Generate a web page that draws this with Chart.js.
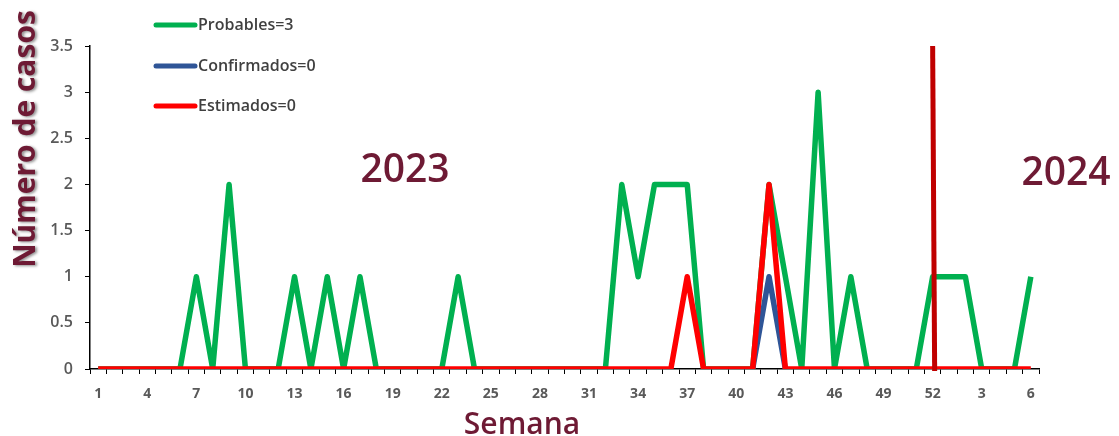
<!DOCTYPE html>
<html>
<head>
<meta charset="utf-8">
<script src="https://cdn.jsdelivr.net/npm/chart.js@4"></script>
<style>
  html, body { margin: 0; padding: 0; background: #fff; }
  #wrap { width: 1119px; height: 436px; position: relative; }
</style>
</head>
<body>
<div id="wrap"><canvas id="chart"></canvas></div>
<script>
// semanas epidemiológicas: 2023 (1-52) y 2024 (1-6)
const semanas = [
  '1','2','3','4','5','6','7','8','9','10','11','12','13','14','15','16','17','18',
  '19','20','21','22','23','24','25','26','27','28','29','30','31','32','33','34','35','36',
  '37','38','39','40','41','42','43','44','45','46','47','48','49','50','51','52',
  '1','2','3','4','5','6'
];
const probables = [
  0,0,0,0,0,0,1,0,2,0,0,0,1,0,1,0,1,0,
  0,0,0,0,1,0,0,0,0,0,0,0,0,0,2,1,2,2,
  2,0,0,0,0,2,1,0,3,0,1,0,0,0,0,1,
  1,1,0,0,0,1
];
// solo el tramo visible de la serie azul
const confirmados = [
  null,null,null,null,null,null,null,null,null,null,null,null,null,null,null,null,null,null,
  null,null,null,null,null,null,null,null,null,null,null,null,null,null,null,null,null,null,
  null,null,null,null,0,1,0,null,null,null,null,null,null,null,null,null,
  null,null,null,null,null,null
];
const estimados = [
  0,0,0,0,0,0,0,0,0,0,0,0,0,0,0,0,0,0,
  0,0,0,0,0,0,0,0,0,0,0,0,0,0,0,0,0,0,
  1,0,0,0,0,2,0,0,0,0,0,0,0,0,0,0,
  0,0,0,0,0,0
];
const leyenda = ['Probables=3', 'Confirmados=0', 'Estimados=0'];
const colores = ['#00B050', '#2F5597', '#FF0000'];
const corteAnio = 51; // índice de la semana 52 (cambio de año)

const maroon = '#6E1A34';
const gris = '#595959';

const extras = {
  id: 'extras',
  afterDatasetsDraw(chart) {
    const { ctx, scales: { x, y } } = chart;
    ctx.save();
    // línea de cambio de año
    const xc = x.getPixelForValue(corteAnio);
    ctx.strokeStyle = '#C00000';
    ctx.lineWidth = 5;
    ctx.beginPath();
    ctx.moveTo(xc, y.getPixelForValue(3.5));
    ctx.lineTo(xc + 2, y.getPixelForValue(0) + 2);
    ctx.stroke();
    ctx.restore();
  },
  afterDraw(chart) {
    const { ctx } = chart;
    ctx.save();
    // leyenda
    const ys = [25, 66, 106];
    leyenda.forEach((t, i) => {
      ctx.strokeStyle = colores[i];
      ctx.lineWidth = 5;
      ctx.lineCap = 'round';
      ctx.beginPath();
      ctx.moveTo(156, ys[i]);
      ctx.lineTo(195, ys[i]);
      ctx.stroke();
      ctx.fillStyle = '#404040';
      ctx.font = '600 16px "Open Sans"';
      ctx.textAlign = 'left';
      ctx.textBaseline = 'middle';
      ctx.fillText(t, 198, ys[i]);
    });
    // años
    ctx.fillStyle = maroon;
    ctx.font = '600 39px "Open Sans"';
    ctx.textAlign = 'center';
    ctx.textBaseline = 'alphabetic';
    ctx.fillText('2023', 405, 182);
    ctx.fillText('2024', 1066, 185);
    // título eje x
    ctx.font = '600 30px "Open Sans"';
    ctx.fillText('Semana', 522, 434);
    // título eje y con sombra
    ctx.translate(26, 139);
    ctx.rotate(-Math.PI / 2);
    ctx.shadowColor = 'rgba(0,0,0,0.45)';
    ctx.shadowBlur = 3;
    ctx.shadowOffsetX = 2;
    ctx.shadowOffsetY = 1;
    ctx.font = 'bold 30px "Open Sans"';
    ctx.textBaseline = 'middle';
    ctx.fillText('Número de casos', 0, 0);
    ctx.restore();
  }
};

function serie(label, data, color, order) {
  return {
    label, data, order,
    borderColor: color,
    backgroundColor: color,
    borderWidth: 5.5,
    pointRadius: 0,
    tension: 0,
    spanGaps: false,
    borderJoinStyle: 'round',
    borderCapStyle: 'butt'
  };
}

new Chart(document.getElementById('chart'), {
  type: 'line',
  data: {
    labels: semanas,
    datasets: [
      serie(leyenda[0], probables, colores[0], 2),
      serie(leyenda[1], confirmados, colores[1], 1),
      serie(leyenda[2], estimados, colores[2], 0)
    ]
  },
  options: {
    responsive: true,
    maintainAspectRatio: false,
    animation: false,
    layout: { padding: { top: 46, right: 80, left: 0, bottom: 0 } },
    plugins: { legend: { display: false }, tooltip: { enabled: false } },
    scales: {
      x: {
        offset: true,
        afterFit: s => { s.height = 67; },
        grid: { offset: true, drawOnChartArea: false, color: '#000', tickLength: 5, lineWidth: 1 },
        border: { color: '#000', width: 1.5 },
        ticks: {
          autoSkip: false, maxRotation: 0, padding: 12,
          color: gris, font: { family: 'Open Sans', size: 14, weight: 'bold' },
          callback: (v, i) => (i % 3 === 0 ? semanas[i] : '')
        }
      },
      y: {
        min: 0, max: 3.5,
        afterFit: s => { s.width = 90; },
        grid: { drawOnChartArea: false, color: '#000', tickLength: 5 },
        border: { color: '#000', width: 1.5 },
        ticks: {
          stepSize: 0.5, padding: 12,
          color: gris, font: { family: 'Open Sans', size: 16, weight: '600' },
          callback: v => String(v)
        }
      }
    }
  },
  plugins: [extras]
});
</script>
</body>
</html>
